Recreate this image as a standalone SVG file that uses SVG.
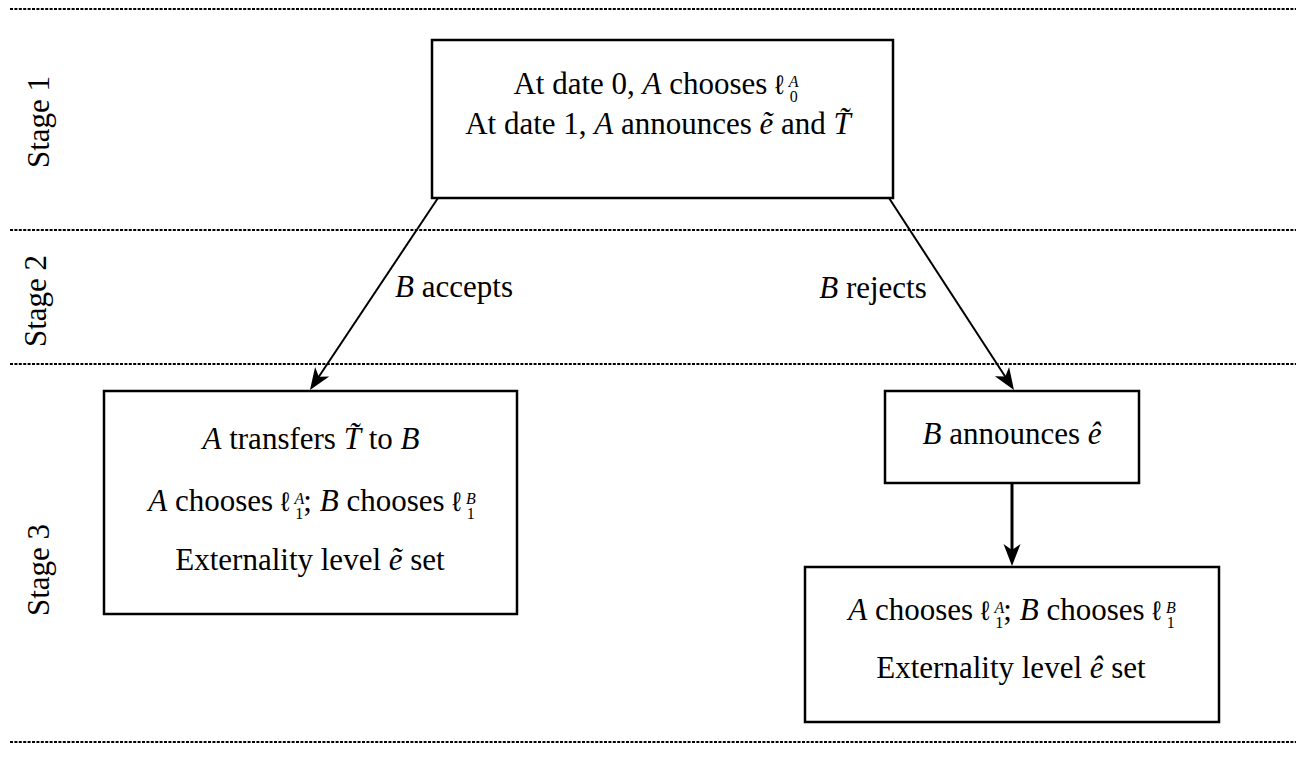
<svg xmlns="http://www.w3.org/2000/svg" width="1296" height="757" viewBox="0 0 1296 757">
<style>
text{font-family:"Liberation Serif","Times New Roman",serif;font-size:31px;fill:#000;text-anchor:middle}
.stage{font-size:31px}
.i{font-style:italic}
.s{font-size:16px}
.l{font-family:"DejaVu Sans",sans-serif;font-weight:200;font-size:27px}
.box{fill:#fff;stroke:#000;stroke-width:2.5}
.dot{stroke:#000;stroke-width:2;stroke-dasharray:3 1.4;fill:none}
.conn{stroke:#000;stroke-width:2;fill:none;marker-end:url(#ah)}
</style>
<defs>
<marker id="ah" markerUnits="userSpaceOnUse" viewBox="-24 -10 26 20" markerWidth="26" markerHeight="20" refX="-6" refY="0" orient="auto">
<path d="M0,0 L-22,-8.5 L-16,0 L-22,8.5 Z" fill="#000"/>
</marker>
</defs>
<g id="stage-lines">
<line class="dot" x1="10" y1="9" x2="1296" y2="9"/>
<line class="dot" x1="10" y1="230" x2="1296" y2="230"/>
<line class="dot" x1="10" y1="364" x2="1296" y2="364"/>
<line class="dot" x1="10" y1="742" x2="1296" y2="742"/>
</g>
<g id="stage-labels">
<text class="stage" transform="translate(49,122) rotate(-90)">Stage 1</text>
<text class="stage" transform="translate(46,301) rotate(-90)">Stage 2</text>
<text class="stage" transform="translate(49,570) rotate(-90)">Stage 3</text>
</g>
<g id="connectors">
<line class="conn" x1="438" y1="198" x2="313.3" y2="385"/>
<line class="conn" x1="889" y1="198" x2="1010.7" y2="385"/>
<line class="conn" x1="1012" y1="483" x2="1012" y2="560" style="stroke-width:3"/>
<text x="454" y="297"><tspan class="i">B</tspan> accepts</text>
<text x="873" y="298"><tspan class="i">B</tspan> rejects</text>
</g>
<g id="node-stage1">
<rect class="box" x="432" y="40" width="461" height="158"/>
<text x="656" y="94">At date 0, <tspan class="i">A</tspan> chooses <tspan class="l">ℓ</tspan><tspan class="s i" dy="-7" dx="5">A</tspan><tspan class="s" dx="-9" dy="15">0</tspan></text>
<text x="658" y="134">At date 1, <tspan class="i">A</tspan> announces <tspan class="i">ẽ</tspan> and <tspan class="i">T̃</tspan></text>
</g>
<g id="node-accept">
<rect class="box" x="104" y="391" width="413" height="223"/>
<text x="311" y="449"><tspan class="i">A</tspan> transfers <tspan class="i">T̃</tspan> to <tspan class="i">B</tspan></text>
<text x="312" y="511"><tspan class="i">A</tspan> chooses <tspan class="l">ℓ</tspan><tspan class="s i" dy="-7" dx="5">A</tspan><tspan class="s" dx="-9" dy="15">1</tspan><tspan dy="-8">; </tspan><tspan class="i">B</tspan> chooses <tspan class="l">ℓ</tspan><tspan class="s i" dy="-7" dx="5">B</tspan><tspan class="s" dx="-9" dy="15">1</tspan></text>
<text x="310" y="570">Externality level <tspan class="i">ẽ</tspan> set</text>
</g>
<g id="node-announce">
<rect class="box" x="885" y="391" width="254" height="92"/>
<text x="1012" y="444"><tspan class="i">B</tspan> announces <tspan class="i">ê</tspan></text>
</g>
<g id="node-reject">
<rect class="box" x="805" y="567" width="414" height="155"/>
<text x="1012" y="620"><tspan class="i">A</tspan> chooses <tspan class="l">ℓ</tspan><tspan class="s i" dy="-7" dx="5">A</tspan><tspan class="s" dx="-9" dy="15">1</tspan><tspan dy="-8">; </tspan><tspan class="i">B</tspan> chooses <tspan class="l">ℓ</tspan><tspan class="s i" dy="-7" dx="5">B</tspan><tspan class="s" dx="-9" dy="15">1</tspan></text>
<text x="1011" y="678">Externality level <tspan class="i">ê</tspan> set</text>
</g>
</svg>
